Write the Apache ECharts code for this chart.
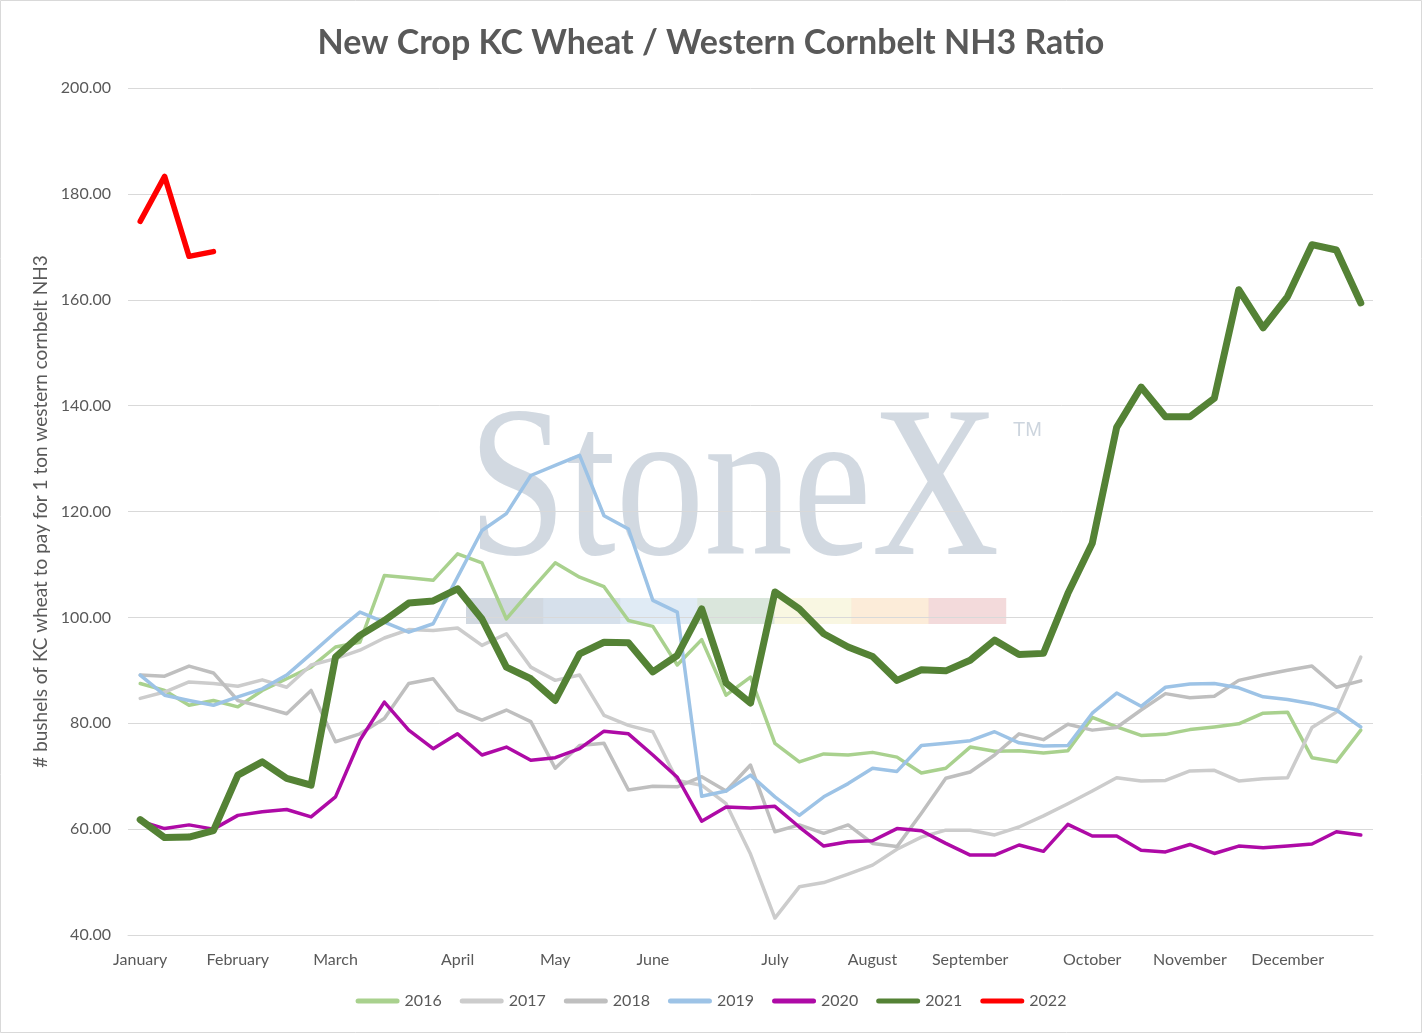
<!DOCTYPE html>
<html>
<head>
<meta charset="utf-8">
<title>New Crop KC Wheat / Western Cornbelt NH3 Ratio</title>
<script src="https://cdn.jsdelivr.net/npm/echarts@6/dist/echarts.min.js"></script>
<style>
    html, body { margin: 0; padding: 0; background: #fff; }
    #ratioChart { width: 1422px; height: 1033px; }
</style>
</head>
<body>
<div id="ratioChart"></div>
<script>
// weekly points, first week of Jan .. last week of Dec
var weeks = [];
for (var w = 1; w <= 51; w++) { weeks.push('W' + w); }

// month name shown under the week it starts on
var monthNames = ['January', 'February', 'March', 'April', 'May', 'June',
    'July', 'August', 'September', 'October', 'November', 'December'];
var monthStartWeek = [0, 4, 8, 13, 17, 21, 26, 30, 34, 39, 43, 47];

var yTicks = [40, 200, 20]; // min, max, step

var years = ['2016', '2017', '2018', '2019', '2020', '2021', '2022'];

var v2016 = [87.5, 86.2, 83.4, 84.3, 83.1, 86.2, 88.4, 90.6, 94.4, 95.3,
    107.9, 107.5, 107.0, 112.0, 110.3, 99.7, 105.1, 110.3, 107.6, 105.8,
    99.4, 98.3, 91.0, 95.8, 85.3, 88.7, 76.2, 72.7, 74.2, 74.0,
    74.5, 73.6, 70.6, 71.5, 75.5, 74.7, 74.8, 74.4, 74.8, 81.1,
    79.3, 77.7, 77.9, 78.8, 79.3, 79.9, 81.9, 82.1, 73.5, 72.7, 78.7];
var v2017 = [84.7, 85.9, 87.8, 87.5, 87.0, 88.2, 86.8, 91.0, 92.2, 93.8,
    96.1, 97.7, 97.5, 98.0, 94.7, 96.9, 90.6, 88.1, 89.1, 81.5,
    79.6, 78.4, 69.2, 68.3, 64.8, 55.3, 43.2, 49.1, 49.9, 51.5,
    53.2, 56.2, 58.5, 59.8, 59.8, 58.9, 60.4, 62.5, 64.8, 67.2,
    69.7, 69.1, 69.2, 71.0, 71.1, 69.1, 69.5, 69.7, 79.2, 82.1, 92.5];
var v2018 = [89.1, 88.9, 90.8, 89.5, 84.3, 83.1, 81.8, 86.2, 76.5, 78.0,
    80.9, 87.5, 88.4, 82.5, 80.6, 82.5, 80.3, 71.5, 75.8, 76.2,
    67.4, 68.1, 68.0, 69.9, 67.2, 72.1, 59.5, 60.8, 59.2, 60.8,
    57.3, 56.7, 63.0, 69.6, 70.8, 74.0, 78.0, 76.9, 79.8, 78.7,
    79.2, 82.5, 85.6, 84.8, 85.1, 88.1, 89.1, 90.0, 90.8, 86.8, 88.0];
var v2019 = [89.1, 85.3, 84.3, 83.4, 85.0, 86.5, 89.1, 93.1, 97.2, 101.0,
    99.1, 97.2, 98.8, 107.6, 116.4, 119.6, 126.8, 128.7, 130.6, 119.2,
    116.7, 103.2, 101.0, 66.2, 67.2, 70.2, 66.1, 62.6, 66.1, 68.6,
    71.5, 70.9, 75.8, 76.2, 76.7, 78.4, 76.3, 75.7, 75.8, 81.9,
    85.7, 83.2, 86.8, 87.4, 87.5, 86.7, 85.0, 84.5, 83.7, 82.5, 79.3];
var v2020 = [61.5, 60.1, 60.8, 60.0, 62.6, 63.3, 63.7, 62.3, 66.1, 76.8,
    84.0, 78.7, 75.2, 78.0, 74.0, 75.5, 73.0, 73.5, 75.2, 78.5,
    78.0, 74.0, 69.8, 61.5, 64.2, 64.0, 64.3, 60.4, 56.8, 57.6,
    57.8, 60.1, 59.7, 57.3, 55.1, 55.1, 57.0, 55.8, 60.9, 58.7,
    58.7, 56.0, 55.7, 57.1, 55.4, 56.8, 56.5, 56.8, 57.2, 59.5, 58.9];
var v2021 = [61.8, 58.4, 58.5, 59.7, 70.2, 72.7, 69.6, 68.3, 92.5, 96.6,
    99.4, 102.7, 103.1, 105.4, 99.7, 90.6, 88.4, 84.3, 93.1, 95.3,
    95.2, 89.7, 92.8, 101.6, 87.6, 83.8, 104.8, 101.6, 96.9, 94.4,
    92.6, 88.1, 90.1, 89.9, 91.9, 95.7, 93.0, 93.2, 104.5, 114.0,
    135.9, 143.5, 137.9, 137.9, 141.4, 161.9, 154.7, 160.6, 170.4, 169.4, 159.4];
var v2022 = [174.8, 183.3, 168.2, 169.1];

var seriesValues = [v2016, v2017, v2018, v2019, v2020, v2021, v2022];
var lineColors = ['#a9d18e', '#cccccc', '#bfbfbf', '#9dc3e6', '#ae0aa6', '#548235', '#ff0000'];
var lineWidths = [3.5, 3.5, 3.5, 3.5, 3.5, 7, 5.5];

var textColor = '#595959';
var fontName = 'Lato';

var myChart = echarts.init(document.getElementById('ratioChart'));

var series = [];
for (var i = 0; i < years.length; i++) {
    series.push({
        name: years[i],
        type: 'line',
        data: seriesValues[i],
        symbol: 'none',
        smooth: false,
        color: lineColors[i],
        lineStyle: { width: lineWidths[i], color: lineColors[i], cap: 'round', join: 'round' }
    });
}

// StoneX watermark behind the lines
var stripColors = ['#c9d1db', '#cfdbe8', '#dbe8f3', '#d3e2d6', '#f8f6dd', '#fbe9d2', '#f1d3d5'];
var watermark = [];
for (var k = 0; k < stripColors.length; k++) {
    watermark.push({
        type: 'rect', z: -1, silent: true,
        shape: { x: 466 + k * 77.1, y: 598, width: 77.6, height: 26 },
        style: { fill: stripColors[k], opacity: 0.85 }
    });
}
watermark.push({
    type: 'text', z: -1, silent: true,
    x: 468, y: 605, scaleX: 0.82,
    style: {
        text: 'StoneX', fill: '#cdd5de', opacity: 0.9,
        font: '216px "Liberation Serif"', verticalAlign: 'bottom', align: 'left'
    }
});
watermark.push({
    type: 'text', z: -1, silent: true,
    x: 1013, y: 420,
    style: { text: 'TM', fill: '#cdd5de', font: '20px "Liberation Sans"', verticalAlign: 'top' }
});
// outer border of the picture
watermark.push({
    type: 'rect', silent: true,
    shape: { x: 0.5, y: 0.5, width: 1421, height: 1032 },
    style: { fill: 'none', stroke: '#d9d9d9', lineWidth: 1 }
});

var option = {
    backgroundColor: '#ffffff',
    animation: false,
    title: {
        text: 'New Crop KC Wheat / Western Cornbelt NH3 Ratio',
        left: 'center',
        top: 21,
        textStyle: { fontFamily: fontName, fontSize: 34, fontWeight: 'bold', color: textColor }
    },
    legend: {
        data: years,
        bottom: 19,
        left: 'center',
        itemWidth: 44,
        itemHeight: 5,
        itemGap: 18,
        icon: 'path://M2.5,0H41.5A2.5,2.5,0,0,1,41.5,5H2.5A2.5,2.5,0,0,1,2.5,0Z',
        textStyle: { fontFamily: fontName, fontSize: 16, color: textColor }
    },
    grid: {
        left: 128,
        right: 49,
        top: 88,
        bottom: 98
    },
    xAxis: {
        type: 'category',
        boundaryGap: true,
        data: weeks,
        axisLine: { show: true, lineStyle: { color: '#d9d9d9' } },
        axisTick: { show: false },
        splitLine: { show: false },
        axisLabel: {
            interval: function (index) { return monthStartWeek.indexOf(index) >= 0; },
            formatter: function (value, index) {
                var m = monthStartWeek.indexOf(index);
                return m >= 0 ? monthNames[m] : '';
            },
            margin: 17,
            fontFamily: fontName,
            fontSize: 16,
            color: textColor
        }
    },
    yAxis: {
        type: 'value',
        min: yTicks[0],
        max: yTicks[1],
        interval: yTicks[2],
        name: '# bushels of KC wheat to pay for 1 ton western cornbelt NH3',
        nameLocation: 'middle',
        nameGap: 78,
        nameTextStyle: { fontFamily: fontName, fontSize: 19, color: textColor },
        axisLine: { show: false },
        axisTick: { show: false },
        splitLine: { lineStyle: { color: '#d9d9d9', width: 1 } },
        axisLabel: {
            formatter: function (v) { return v.toFixed(2); },
            margin: 17,
            fontFamily: fontName,
            fontSize: 16,
            color: textColor
        }
    },
    graphic: { elements: watermark },
    series: series
};

myChart.setOption(option);
</script>
</body>
</html>
